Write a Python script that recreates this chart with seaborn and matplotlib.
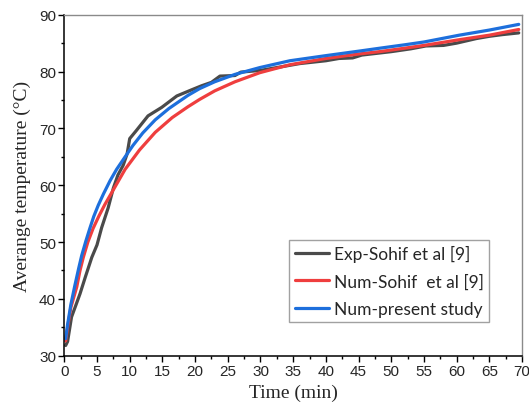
import pandas as pd
import matplotlib.pyplot as plt
import seaborn as sns

# Dane
exp_time = [0.2, 0.5, 1.1, 1.8, 2.4, 3.2, 4.2, 5.0, 5.7, 6.7, 7.5, 8.2, 9.0, 9.6, 10.0, 11.0,
            12.8, 14.9, 17.2, 19.5, 21.0, 22.5, 23.8, 26.1, 27.0, 30.0, 33.0, 36.0, 40.0,
            42.0, 44.1, 45.5, 47.0, 50.0, 53.0, 55.3, 58.0, 60.0, 63.0, 65.0, 67.0, 69.5]
exp_temp = [31.8, 32.5, 36.8, 39.0, 40.9, 43.8, 47.3, 49.5, 52.5, 56.0, 59.5, 61.8, 63.5, 65.5, 68.2, 69.6,
            72.2, 73.7, 75.7, 76.8, 77.5, 78.1, 79.2, 79.3, 79.9, 80.2, 80.8, 81.4, 81.9,
            82.3, 82.4, 82.9, 83.1, 83.5, 84.0, 84.5, 84.6, 85.0, 85.8, 86.2, 86.5, 86.8]

num_time = [0.2, 0.5, 1.0, 1.9, 2.4, 2.9, 3.6, 4.4, 5.3, 6.2, 7.5, 9.3, 11.5, 13.9, 16.5,
            18.9, 20.7, 23.0, 26.1, 29.9, 34.5, 40.0, 45.1, 48.2, 52.0, 55.0, 60.4, 65.0, 69.5]
num_temp = [32.6, 35.0, 38.5, 42.1, 45.0, 47.3, 50.0, 52.4, 54.6, 56.6, 59.2, 62.8, 66.2, 69.3, 71.9,
            73.8, 75.1, 76.6, 78.2, 79.8, 81.2, 82.3, 83.1, 83.5, 84.1, 84.6, 85.6, 86.4, 87.4]

present_time = [0.2, 0.5, 1.0, 1.6, 2.2, 2.65, 3.3, 3.9, 4.5, 5.2, 6.0, 7.0, 8.0, 9.3, 10.5,
                12.0, 13.9, 16.0, 18.9, 20.7, 23.0, 26.1, 29.9, 34.5, 40.0, 45.1, 48.2, 52.0,
                55.0, 60.4, 65.0, 69.5]
present_temp = [33.0, 35.5, 39.0, 42.3, 45.4, 47.6, 50.2, 52.4, 54.5, 56.5, 58.5, 60.8, 62.8, 65.0, 67.0,
                69.2, 71.5, 73.5, 75.8, 77.0, 78.2, 79.5, 80.7, 81.9, 82.8, 83.6, 84.1, 84.7,
                85.2, 86.4, 87.3, 88.3]

series_names = ['Exp-Sohif et al [9]', 'Num-Sohif  et al [9]', 'Num-present study']
series_colors = ['#4a4a4a', '#ef3e3e', '#1d6fdc']

data = pd.concat([
    pd.DataFrame({'time': exp_time, 'temp': exp_temp, 'series': series_names[0]}),
    pd.DataFrame({'time': num_time, 'temp': num_temp, 'series': series_names[1]}),
    pd.DataFrame({'time': present_time, 'temp': present_temp, 'series': series_names[2]}),
])

sns.set_style('ticks')
plt.rcParams['font.family'] = ['Liberation Sans', 'DejaVu Sans']

fig = plt.figure(figsize=(5.29, 4.06), dpi=100)
ax = fig.add_axes([0.1216, 0.1214, 0.8652, 0.8399])

sns.lineplot(data=data, x='time', y='temp', hue='series', palette=dict(zip(series_names, series_colors)),
             linewidth=2.3, sort=False, estimator=None, ax=ax)
for line in ax.get_lines():
    line.set_solid_joinstyle('round')

ax.set_xlim(0, 70)
ax.set_ylim(30, 90)
ax.set_xticks(range(0, 71, 5))
ax.set_xticks([x + 2.5 for x in range(0, 70, 5)], minor=True)
ax.set_yticks(range(30, 91, 10))
ax.set_yticks(range(35, 90, 10), minor=True)
ax.tick_params(which='major', direction='out', length=4, width=1, labelsize=11, color='black', pad=2)
ax.tick_params(which='minor', direction='out', length=2.5, width=1, color='black')

for side in ['left', 'bottom']:
    ax.spines[side].set_color('black')
    ax.spines[side].set_linewidth(1.1)
for side in ['top', 'right']:
    ax.spines[side].set_color('#8a8a8a')
    ax.spines[side].set_linewidth(1.0)

ax.set_xlabel('Time (min)', fontsize=14, family='Liberation Serif', labelpad=4)
ax.set_ylabel('Averange temperature (°C)', fontsize=14, family='Liberation Serif', labelpad=6)

handles, labels = ax.get_legend_handles_labels()
leg = ax.legend(handles, labels, loc='upper left', bbox_to_anchor=(0.4916, 0.340),
                frameon=True, fancybox=False, edgecolor='#8a8a8a',
                prop={'family': 'Lato', 'size': 12.5}, handlelength=2.0, handletextpad=0.25,
                borderpad=0.3, labelspacing=0.65, borderaxespad=0)
leg.get_frame().set_linewidth(1.0)
for line in leg.get_lines():
    line.set_linewidth(2.3)

plt.savefig('out.png', dpi=100)
plt.close()
